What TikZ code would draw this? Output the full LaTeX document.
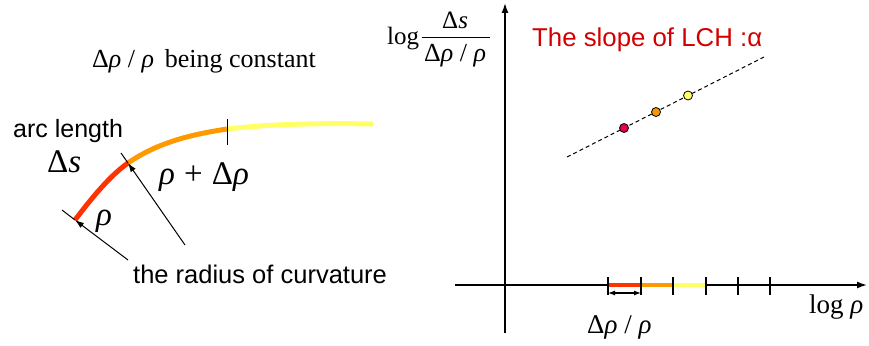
\documentclass[tikz,border=0pt]{standalone}
\usepackage{fontspec}
\setmainfont{Liberation Serif}
\setsansfont{Liberation Sans}
\usetikzlibrary{arrows.meta}
\definecolor{cred}{RGB}{255,51,0}
\definecolor{corange}{RGB}{255,153,0}
\definecolor{cyellow}{RGB}{255,255,102}
\definecolor{dpink}{RGB}{232,0,80}
\definecolor{dorange}{RGB}{243,152,0}
\definecolor{titlered}{RGB}{210,0,0}
\tikzset{
  serif/.style={font=\fontsize{25}{28}\selectfont, inner sep=0pt, anchor=base west},
  bigserif/.style={font=\fontsize{33}{36}\selectfont, inner sep=0pt, anchor=base west},
  sans/.style={font=\sffamily\fontsize{25}{28}\selectfont, inner sep=0pt, anchor=base west},
  curveseg/.style={line width=5pt, line cap=butt},
  axisseg/.style={line width=4pt, line cap=butt},
  thinline/.style={line width=1pt},
  radarrow/.style={line width=1pt, -{Latex[length=9pt,width=6pt]}},
  axisline/.style={line width=1.5pt, -{Latex[length=10pt,width=7pt]}},
  tickline/.style={line width=1.2pt},
  dot/.style={circle, draw=black, line width=0.8pt, minimum size=9pt, inner sep=0pt},
}
\begin{document}
\begin{tikzpicture}[x=1pt,y=-1pt]
\useasboundingbox (0,0) rectangle (869,345);
% ---------- left part ----------
\node[serif, anchor=base, font=\fontsize{26}{28}\selectfont] (title) at (204,67) {Δ\textit{ρ} / \textit{ρ}\, being constant};
\coordinate (c0) at (75,220);
\coordinate (c1) at (128,163);
\coordinate (c2) at (227,129);
\coordinate (c3) at (373,124);
\draw[curveseg, cred] (c0) .. controls (88,203) and (108,177) .. (c1);
\draw[curveseg, corange] (c1) .. controls (160,141) and (195,134) .. (c2);
\draw[curveseg, cyellow] (c2) .. controls (270,124) and (320,123) .. (c3);
\coordinate (t0) at (227,119);
\coordinate (t1) at (227,145);
\draw[thinline] (t0) -- (t1);
% radius lines
\coordinate (a0) at (128,260);
\coordinate (a1) at (62,210);
\draw[thinline] (c0) -- (a1);
\draw[radarrow] (a0) -- (c0);
\coordinate (b0) at (185,245);
\coordinate (b1) at (121,153);
\draw[thinline] (c1) -- (b1);
\draw[radarrow] (b0) -- (c1);
% labels
\node[sans] (arc) at (13,137) {arc length};
\node[bigserif] (ds) at (47,172) {Δ\textit{s}};
\node[bigserif] (rdr) at (159,184) {\textit{ρ}\;+\;Δ\textit{ρ}};
\node[bigserif] (rho) at (96,225) {\textit{ρ}};
\node[sans, font=\sffamily\fontsize{25.5}{28}\selectfont] (radius) at (133,283) {the radius of curvature};
% ---------- right part ----------
\coordinate (yb) at (505,333);
\coordinate (yt) at (505,3);
\draw[axisline] (yb) -- (yt);
\coordinate (xl) at (455,285);
\coordinate (xr) at (867,285);
\draw[axisline] (xl) -- (xr);
\coordinate (p0) at (608,285);
\coordinate (p1) at (641,285);
\coordinate (p2) at (673,285);
\coordinate (p3) at (706,285);
\draw[axisseg, cred] (p0) -- (p1);
\draw[axisseg, corange] (p1) -- (p2);
\draw[axisseg, cyellow] (p2) -- (p3);
\foreach \x in {608,641,673,706,738,770}
  \draw[tickline] (\x,277) -- (\x,295);
\coordinate (d0) at (608,293);
\coordinate (d1) at (641,293);
\draw[line width=1.2pt, {Latex[length=7pt,width=5pt]}-{Latex[length=7pt,width=5pt]}] (d0) -- (d1);
\node[serif, font=\fontsize{27}{28}\selectfont] (drr) at (587,333) {Δ\textit{ρ} / \textit{ρ}};
\node[serif, font=\fontsize{27}{28}\selectfont] (logrho) at (809,313) {log \textit{ρ}};
% y label
\node[serif] (log) at (387,45) {log};
\node[serif] (num) at (442,29) {Δ\textit{s}};
\node[serif, font=\fontsize{26}{28}\selectfont] (den) at (424,61) {Δ\textit{ρ} / \textit{ρ}};
\coordinate (f0) at (422,38);
\coordinate (f1) at (490,38);
\draw[line width=1pt] (f0) -- (f1);
% slope
\node[sans, font=\sffamily\fontsize{25.8}{28}\selectfont, text=titlered] (slope) at (532,47) {The slope of LCH :α};
\coordinate (l0) at (567,157);
\coordinate (l1) at (764,57);
\draw[line width=1pt, dash pattern=on 4pt off 3pt] (l0) -- (l1);
\node[dot, fill=dpink] (q1) at (624,128) {};
\node[dot, fill=dorange] (q2) at (656,112) {};
\node[dot, fill=cyellow] (q3) at (688,95.5) {};
\end{tikzpicture}
\end{document}
